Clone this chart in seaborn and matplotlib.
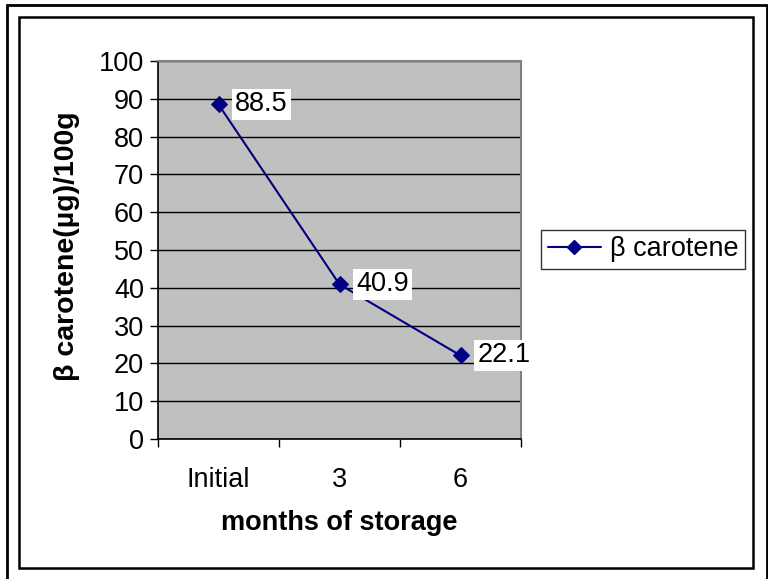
import matplotlib
matplotlib.use("Agg")
import matplotlib.pyplot as plt
import seaborn as sns
import pandas as pd
from matplotlib.patches import Rectangle
from matplotlib.lines import Line2D

categories = ["Initial", "3", "6"]
beta_carotene = [88.5, 40.9, 22.1]
y_ticks = [0, 10, 20, 30, 40, 50, 60, 70, 80, 90, 100]
series_name = "β carotene"

sns.set_theme(style="white")
plt.rcParams['font.family'] = ['Liberation Sans', 'DejaVu Sans']
plt.rcParams['text.color'] = 'black'
plt.rcParams['axes.labelcolor'] = 'black'
plt.rcParams['xtick.color'] = 'black'
plt.rcParams['ytick.color'] = 'black'

df = pd.DataFrame({"months": categories, "value": beta_carotene, "series": series_name})

FS = 19.5
fig = plt.figure(figsize=(7.68, 5.79), dpi=100)
W, H = 768, 579
ax = fig.add_axes([158 / W, 1 - 439 / H, (521 - 158) / W, (439 - 61) / H])
ax.set_facecolor("#C0C0C0")

sns.lineplot(data=df, x="months", y="value", hue="series", palette=["#000080"],
             marker="D", markersize=8, linewidth=1.5, markeredgecolor="#000080",
             ax=ax, sort=False, legend=False)

ax.set_xlim(-0.5, 2.5)
ax.set_ylim(0, 100)
ax.set_yticks(y_ticks)
ax.set_yticklabels([str(v) for v in y_ticks], fontsize=FS)
ax.yaxis.grid(True, color="black", linewidth=1)
ax.xaxis.grid(False)
ax.set_axisbelow(True)

ax.set_xticks([-0.5, 0.5, 1.5, 2.5])
ax.set_xticklabels([])
ax.set_xticks([0, 1, 2], minor=True)
ax.set_xticklabels(categories, minor=True, fontsize=FS)
ax.tick_params(axis="x", which="major", direction="out", length=6, width=1, color="black", bottom=True)
ax.tick_params(axis="x", which="minor", length=0, pad=20)
ax.tick_params(axis="y", direction="out", length=6, width=1, color="black", left=True, pad=4)

for s in ["left", "bottom"]:
    ax.spines[s].set_color("black")
    ax.spines[s].set_linewidth(1.2)
for s in ["top", "right"]:
    ax.spines[s].set_color("#808080")
    ax.spines[s].set_linewidth(1.5)

ax.set_xlabel("months of storage", fontsize=FS, fontweight="bold")
ax.set_ylabel("β carotene(µg)/100g", fontsize=20.5, fontweight="bold")
ax.xaxis.set_label_coords(0.5, (439 - 523) / 378)
ax.yaxis.set_label_coords((67 - 158) / 363, (439 - 246) / 378)
ax.xaxis.label.set_va("center")
ax.yaxis.label.set_va("center")

for i, v in enumerate(beta_carotene):
    ax.annotate(f"{v}", xy=(i, v), xytext=(12, 0), textcoords="offset points",
                ha="left", va="center", fontsize=FS,
                bbox=dict(boxstyle="square,pad=0.1", fc="white", ec="none"))

handle = Line2D([0], [0], color="#000080", marker="D", markersize=7, linewidth=1.5)
leg = fig.legend([handle], [series_name], loc="center left",
                 bbox_to_anchor=(541 / W, 1 - 249.5 / H), fontsize=FS,
                 frameon=True, fancybox=False, edgecolor="black",
                 handlelength=1.95, borderpad=0.25, handletextpad=0.35, borderaxespad=0)
leg.get_frame().set_linewidth(1)

fig.patches.append(Rectangle((7 / W, -0.05), (767 - 7) / W, 1 - 5 / H + 0.05,
                             transform=fig.transFigure, fill=False, ec="black", lw=2))
fig.patches.append(Rectangle((19 / W, 1 - 568 / H), (753 - 19) / W, (568 - 17) / H,
                             transform=fig.transFigure, fill=False, ec="black", lw=1.8))

fig.savefig("out.png", dpi=100, facecolor="white")
